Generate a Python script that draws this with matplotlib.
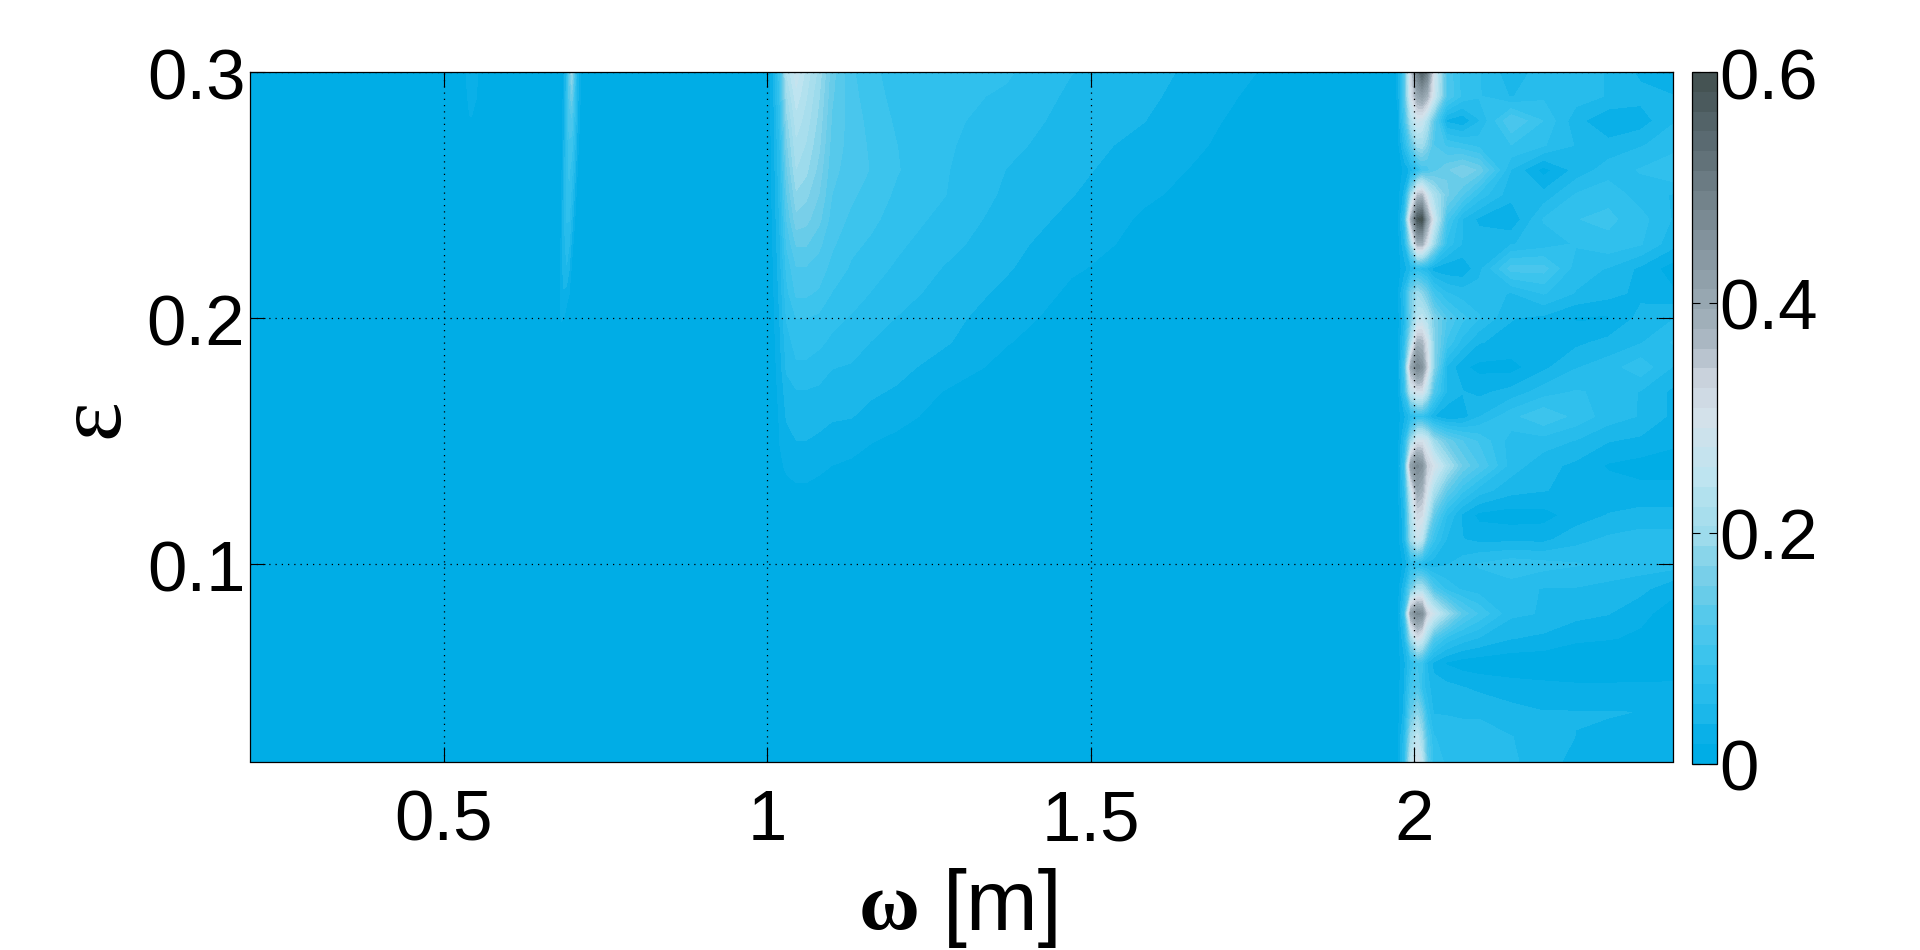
#!/usr/bin/env python3
# contour map of eps vs omega, three regions with signal on a flat background
import numpy as np
import matplotlib
matplotlib.use('Agg')
import matplotlib.pyplot as plt
from matplotlib.colors import LinearSegmentedColormap
from matplotlib.transforms import ScaledTranslation

plt.rcParams['font.family'] = ['Liberation Sans', 'DejaVu Sans']

# narrow streak near omega = 0.7
streak_x = [0.672, 0.678, 0.682, 0.686, 0.690, 0.694, 0.698, 0.702, 0.706, 0.710, 0.714]
streak_y = [0.19, 0.20, 0.22, 0.24, 0.26, 0.28, 0.29, 0.30]
streak_z = [
    [0, 0, 0, 0, 0, 0, 0, 0, 0, 0, 0],
    [0, 0, .020, .018, .005, 0, 0, 0, 0, 0, 0],
    [0, 0, .025, .045, .050, .035, .012, 0, 0, 0, 0],
    [0, 0, .018, .050, .070, .070, .045, .020, .005, 0, 0],
    [0, 0, .010, .040, .075, .090, .075, .050, .020, 0, 0],
    [0, 0, .005, .030, .065, .110, .115, .080, .040, .018, 0],
    [0, 0, .003, .025, .060, .125, .150, .090, .045, .022, .005],
    [0, 0, 0, .020, .055, .130, .195, .120, .050, .028, .008],
]

# faint patch near omega = 0.55
patch_x = [0.530, 0.536, 0.542, 0.550, 0.558]
patch_y = [0.278, 0.282, 0.29, 0.30]
patch_z = [
    [0, 0, 0, 0, 0],
    [0, .012, .019, .008, 0],
    [0, .016, .024, .019, 0],
    [0, .019, .026, .024, .005],
]

# broad hump above omega = 1
hump_x = [1.00, 1.01, 1.02, 1.03, 1.045, 1.06, 1.08, 1.10, 1.13, 1.16, 1.20, 1.27, 1.37, 1.47, 1.58, 1.70, 1.80, 1.90]
hump_y = [0.12, 0.13, 0.14, 0.15, 0.16, 0.17, 0.18, 0.19, 0.20, 0.21, 0.22, 0.23, 0.24, 0.25, 0.26, 0.27, 0.28, 0.29, 0.30]
hump_z = [
    [0, 0, .003, .004, .005, .005, .004, .003, .002, .001, 0, 0, 0, 0, 0, 0, 0, 0],
    [0, 0, .008, .012, .014, .014, .011, .010, .007, .005, .003, .001, 0, 0, 0, 0, 0, 0],
    [0, .002, .014, .020, .024, .024, .021, .017, .014, .010, .007, .003, .001, 0, 0, 0, 0, 0],
    [0, .004, .018, .028, .034, .034, .031, .028, .024, .018, .013, .006, .002, .001, 0, 0, 0, 0],
    [0, .006, .020, .036, .043, .042, .040, .036, .035, .029, .023, .011, .004, .002, 0, 0, 0, 0],
    [0, .008, .024, .042, .050, .050, .048, .045, .043, .037, .032, .017, .007, .003, .001, 0, 0, 0],
    [0, .010, .028, .055, .065, .065, .060, .052, .050, .044, .040, .027, .012, .005, .002, 0, 0, 0],
    [0, .012, .032, .060, .076, .076, .072, .065, .058, .051, .046, .037, .018, .007, .003, 0, 0, 0],
    [0, .014, .036, .070, .086, .086, .082, .074, .067, .060, .051, .041, .024, .010, .005, 0, 0, 0],
    [0, .016, .040, .080, .106, .106, .100, .085, .076, .068, .058, .046, .030, .014, .007, .002, 0, 0],
    [0, .018, .045, .090, .118, .118, .112, .097, .083, .075, .066, .051, .036, .019, .010, .003, 0, 0],
    [0, .020, .050, .105, .139, .139, .124, .106, .090, .083, .072, .058, .040, .024, .013, .005, .001, 0],
    [0, .022, .055, .120, .165, .160, .142, .113, .099, .090, .078, .064, .044, .030, .015, .007, .002, 0],
    [0, .024, .060, .135, .185, .176, .154, .120, .106, .095, .083, .070, .048, .035, .020, .009, .003, 0],
    [0, .026, .065, .150, .205, .193, .165, .125, .112, .102, .087, .071, .051, .039, .024, .012, .004, .001],
    [0, .028, .070, .165, .218, .204, .175, .130, .113, .100, .086, .072, .056, .042, .029, .015, .006, .002],
    [0, .030, .080, .180, .232, .215, .183, .135, .112, .097, .083, .073, .061, .045, .035, .0175, .008, .003],
    [0, .032, .090, .200, .250, .225, .190, .140, .109, .093, .080, .074, .066, .048, .039, .020, .010, .004],
    [0, .036, .100, .225, .270, .235, .200, .145, .106, .090, .078, .075, .071, .052, .042, .024, .012, .005],
]

# band of peaks around omega = 2
peaks_x = [1.96, 1.975, 1.985, 1.995, 2.005, 2.012, 2.02, 2.03, 2.05, 2.075, 2.10, 2.15, 2.20, 2.25, 2.30, 2.35, 2.40]
peaks_y = [0.02, 0.03, 0.04, 0.05, 0.06, 0.07, 0.08, 0.09, 0.10, 0.11, 0.12, 0.13, 0.14, 0.15, 0.16,
           0.17, 0.18, 0.19, 0.20, 0.21, 0.22, 0.23, 0.24, 0.25, 0.26, 0.27, 0.28, 0.29, 0.30]
peaks_z = [
    [0, .015, .07, .25, .30, .25, .14, .08, .065, .06, .058, .055, .04, .03, .022, .02, .018],
    [0, .015, .06, .20, .25, .20, .12, .07, .06, .055, .055, .052, .042, .034, .032, .03, .028],
    [0, .01, .04, .14, .18, .15, .08, .05, .05, .05, .05, .04, .035, .035, .035, .034, .032],
    [0, .01, .035, .10, .12, .08, .06, .04, .04, .035, .03, .025, .022, .02, .02, .02, .02],
    [0, .01, .03, .07, .10, .09, .05, .03, .015, .008, .006, .004, .004, .004, .004, .006, .008],
    [0, .01, .05, .20, .30, .27, .20, .12, .08, .06, .05, .035, .03, .02, .018, .015, .01],
    [0, .01, .09, .42, .47, .46, .33, .28, .20, .13, .10, .055, .05, .04, .035, .02, .012],
    [0, .01, .05, .15, .22, .22, .18, .12, .08, .065, .06, .06, .05, .05, .045, .04, .02],
    [0, .008, .02, .06, .06, .05, .04, .04, .05, .06, .07, .08, .075, .07, .065, .06, .06],
    [0, .01, .045, .20, .27, .24, .14, .09, .05, .035, .03, .03, .03, .045, .055, .06, .06],
    [0, .01, .05, .22, .32, .31, .24, .14, .07, .03, .012, .008, .01, .025, .035, .04, .04],
    [0, .01, .07, .27, .40, .38, .30, .22, .14, .09, .06, .04, .035, .03, .025, .022, .022],
    [0, .01, .09, .42, .47, .45, .34, .30, .22, .15, .12, .06, .04, .03, .015, .01, .01],
    [0, .01, .06, .20, .30, .30, .27, .20, .15, .12, .10, .06, .06, .05, .035, .03, .02],
    [0, .01, .03, .06, .08, .08, .06, .035, .02, .025, .05, .08, .10, .08, .06, .05, .03],
    [0, .01, .08, .25, .30, .30, .23, .12, .05, .035, .03, .04, .06, .07, .065, .05, .03],
    [0, .01, .10, .40, .48, .45, .33, .18, .05, .02, .012, .01, .03, .05, .06, .08, .05],
    [0, .01, .07, .22, .38, .37, .30, .18, .10, .06, .035, .03, .03, .03, .04, .05, .07],
    [0, .01, .05, .15, .24, .25, .22, .17, .12, .09, .07, .035, .03, .015, .015, .04, .05],
    [0, .015, .06, .16, .20, .18, .15, .10, .07, .06, .06, .05, .07, .05, .04, .03, .02],
    [0, .01, .025, .05, .07, .06, .05, .025, .02, .02, .045, .11, .11, .06, .05, .03, .008],
    [0, .01, .05, .20, .38, .38, .30, .20, .08, .05, .045, .05, .06, .07, .08, .07, .04],
    [0, .01, .08, .38, .58, .60, .42, .28, .11, .05, .03, .02, .07, .085, .09, .075, .05],
    [0, .01, .04, .20, .35, .36, .28, .22, .16, .12, .08, .04, .04, .07, .08, .06, .05],
    [0, .01, .02, .04, .07, .10, .11, .13, .15, .17, .15, .05, .01, .04, .06, .07, .085],
    [0, .01, .06, .13, .20, .20, .17, .12, .10, .09, .08, .085, .07, .05, .04, .05, .06],
    [0, .015, .10, .22, .28, .27, .22, .14, .03, .02, .05, .12, .085, .04, .02, .025, .05],
    [0, .02, .12, .30, .40, .42, .38, .28, .12, .08, .07, .05, .065, .06, .05, .04, .035],
    [0, .02, .12, .32, .50, .56, .50, .30, .12, .075, .07, .04, .06, .06, .05, .03, .02],
]

xticks = [0.5, 1, 1.5, 2]
xticklabels = ['0.5', '1', '1.5', '2']
yticks = [0.1, 0.2, 0.3]
cbar_ticks = [0, 0.2, 0.4, 0.6]
cbar_ticklabels = ['0', '0.2', '0.4', '0.6']

levels = np.linspace(0, 0.6, 36)
stops = [(0, '#00ade6'), (.009 / .6, '#00ade6'), (.026 / .6, '#0cb0e8'), (.05 / .6, '#22baeb'), (.085 / .6, '#35c2ee'),
         (.12 / .6, '#50c8ec'), (.155 / .6, '#70cde8'), (.2 / .6, '#a0dcec'), (.25 / .6, '#bee4f0'),
         (.3 / .6, '#d3e1ea'), (.33 / .6, '#cdd5df'), (.36 / .6, '#b0bcc7'), (.4 / .6, '#98a8b2'),
         (.45 / .6, '#84949e'), (.5 / .6, '#6e7e86'), (.55 / .6, '#56666c'), (1, '#42504f')]
cmap = LinearSegmentedColormap.from_list('blue_grey', stops)

fig = plt.figure(figsize=(19.2, 9.5), dpi=100)
W, H = 1920, 950
ax = fig.add_axes([249.5 / W, 1 - 761.5 / H, (1673 - 249.5) / W, (761.5 - 71.5) / H])
ax.set_facecolor('#00ade6')

kw = dict(levels=levels, cmap=cmap, antialiased=False)
cf = None
for xs, ys, zs in [(patch_x, patch_y, patch_z), (streak_x, streak_y, streak_z),
                   (hump_x, hump_y, hump_z), (peaks_x, peaks_y, peaks_z)]:
    cf = ax.contourf(xs, ys, np.array(zs), **kw)

ax.set_xlim(0.2, 2.4)
ax.set_ylim(0.02, 0.3)
ax.set_xticks(xticks)
ax.set_xticklabels(xticklabels)
ax.set_yticks(yticks)
ax.set_axisbelow(False)
ax.grid(True, color='k', linewidth=0.9, linestyle=(0, (1, 4)))
ax.tick_params(direction='in', length=10.8, width=0.8, top=True, right=True, labelsize=51)
ax.tick_params(axis='x', pad=20)
ax.tick_params(axis='y', pad=3)
for s in ax.spines.values():
    s.set_linewidth(0.9)
down = ScaledTranslation(0, -2 / 100, fig.dpi_scale_trans)
for lab in ax.get_yticklabels():
    lab.set_transform(lab.get_transform() + down)

# axis labels placed by hand, the greek letters are a serif face next to sans text
fig.text(859 / W, 1 - 929 / H, 'ω', fontsize=60, family=['Liberation Serif', 'DejaVu Serif'],
         ha='left', va='baseline', fontweight='bold')
fig.text(943 / W, 1 - 930 / H, '[m]', fontsize=62, ha='left', va='baseline')
fig.text(95 / W, 1 - 418 / H, 'ε', fontsize=68, family=['Liberation Serif', 'DejaVu Serif'],
         rotation=90, ha='center', va='center')

cax = fig.add_axes([1691.5 / W, 1 - 763.5 / H, 25 / W, (763.5 - 72) / H])
cb = fig.colorbar(cf, cax=cax, ticks=cbar_ticks)
cb.ax.set_yticklabels(cbar_ticklabels)
cb.ax.tick_params(direction='in', length=5.5, width=0.8, left=True, right=True, labelsize=51, pad=2)
cb.outline.set_linewidth(0.9)
for lab in cb.ax.get_yticklabels():
    lab.set_transform(lab.get_transform() + ScaledTranslation(0, -1.5 / 100, fig.dpi_scale_trans))

plt.savefig('out.png', dpi=100)
